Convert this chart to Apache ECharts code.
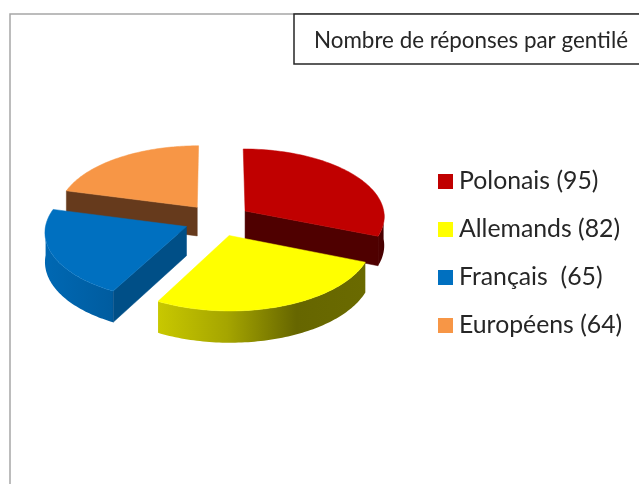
<!DOCTYPE html>
<html>
<head>
<meta charset="utf-8">
<style>html,body{margin:0;padding:0;background:#fff}#c{width:639px;height:484px}</style>
<script src="https://cdn.jsdelivr.net/npm/echarts@6/dist/echarts.min.js"></script>
</head>
<body>
<div id="c"></div>
<script>
const categories = ['Polonais (95)', 'Allemands (82)', 'Français  (65)', 'Européens (64)'];
const values = [95, 82, 65, 64];
const topColors = ['#c00000', '#ffff00', '#0070c0', '#f79646'];
const cutColors = ['#4f0000', '#6a6a00', '#004f87', '#663a1c'];
const wallStops = [
  ['#4f0000', '#450000'],
  ['#c8c800', '#a5a500', '#666600', '#6a6a00'],
  ['#0068b3', '#005c9f'],
  ['#a5622c', '#663a1c']
];
const drawOrder = [2, 4, 3, 1];

const CX = 217.5, CY = 220, RX = 140, RY = 67.7, PERSP = 0.0716, EXPLODE = 0.24, DEPTH = 29;
const total = values.reduce((a, b) => a + b, 0);

function project(x, y, down) {
  const w = 1 + PERSP * y;
  return [CX + RX * x / w, CY - RY * y / w + (down ? DEPTH / w : 0)];
}

function sliceShapes(index, value) {
  const before = values.slice(0, index).reduce((a, b) => a + b, 0);
  const a0 = before / total * 2 * Math.PI;
  const a1 = (before + value) / total * 2 * Math.PI;
  const mid = (a0 + a1) / 2;
  const ox = EXPLODE * Math.sin(mid), oy = EXPLODE * Math.cos(mid);
  const pt = (a) => [ox + Math.sin(a), oy + Math.cos(a)];
  const steps = 80;
  const arc = [];
  for (let i = 0; i <= steps; i++) arc.push(a0 + (a1 - a0) * i / steps);

  const children = [];
  const poly = (points, fill) => ({
    type: 'polygon',
    shape: { points },
    style: { fill, stroke: fill, lineWidth: 0.5 }
  });
  const quad = (a, b) => [project(a[0], a[1]), project(b[0], b[1]), project(b[0], b[1], true), project(a[0], a[1], true)];
  const apex = [ox, oy];

  // outer wall, only the part turned to the viewer
  const front = arc.filter((a) => Math.cos(a) <= 0.02);
  if (front.length > 1) {
    const up = front.map((a) => project(pt(a)[0], pt(a)[1]));
    const low = front.map((a) => project(pt(a)[0], pt(a)[1], true)).reverse();
    const stops = wallStops[index];
    const fill = new echarts.graphic.LinearGradient(0, 0, 1, 0,
      stops.map((color, i) => ({ offset: i / (stops.length - 1), color })));
    children.push({ type: 'polygon', shape: { points: up.concat(low) }, style: { fill } });
  }

  // cut faces turned to the viewer
  if (Math.sin(a0) < -0.01) children.push(poly(quad(apex, pt(a0)), cutColors[index]));
  if (Math.sin(a1) > 0.01) children.push(poly(quad(apex, pt(a1)), cutColors[index]));

  // top face
  const topPts = [project(apex[0], apex[1])].concat(arc.map((a) => project(pt(a)[0], pt(a)[1])));
  children.push(poly(topPts, topColors[index]));
  return children;
}

const series = categories.map((name, index) => ({
  type: 'custom',
  name,
  coordinateSystem: 'none',
  z: drawOrder[index],
  itemStyle: { color: topColors[index] },
  data: [values[index]],
  silent: true,
  renderItem: (params, api) => ({ type: 'group', children: sliceShapes(index, api.value(0)) })
}));

const chart = echarts.init(document.getElementById('c'), null, { renderer: 'canvas' });
chart.setOption({
  animation: false,
  backgroundColor: '#ffffff',
  graphic: [{
    type: 'rect', z: -1, silent: true,
    shape: { x: 10, y: 14, width: 700, height: 600 },
    style: { fill: 'none', stroke: '#a6a6a6', lineWidth: 1.5 }
  }],
  title: {
    text: 'Nombre de réponses par gentilé',
    left: 294, top: 14,
    padding: [16, 60, 12, 20],
    borderColor: '#262626', borderWidth: 1.5,
    backgroundColor: '#fff',
    textStyle: { fontFamily: 'Lato', fontSize: 22.4, fontWeight: 'normal', color: '#262626', lineHeight: 22 }
  },
  legend: {
    orient: 'vertical', left: 438, top: 169,
    data: categories,
    icon: 'rect', itemWidth: 15, itemHeight: 15, itemGap: 23,
    padding: 0,
    selectedMode: false,
    textStyle: { fontFamily: 'Lato', fontSize: 24.8, color: '#262626', padding: [0, 0, 0, 1], lineHeight: 24 }
  },
  series
});
</script>
</body>
</html>
